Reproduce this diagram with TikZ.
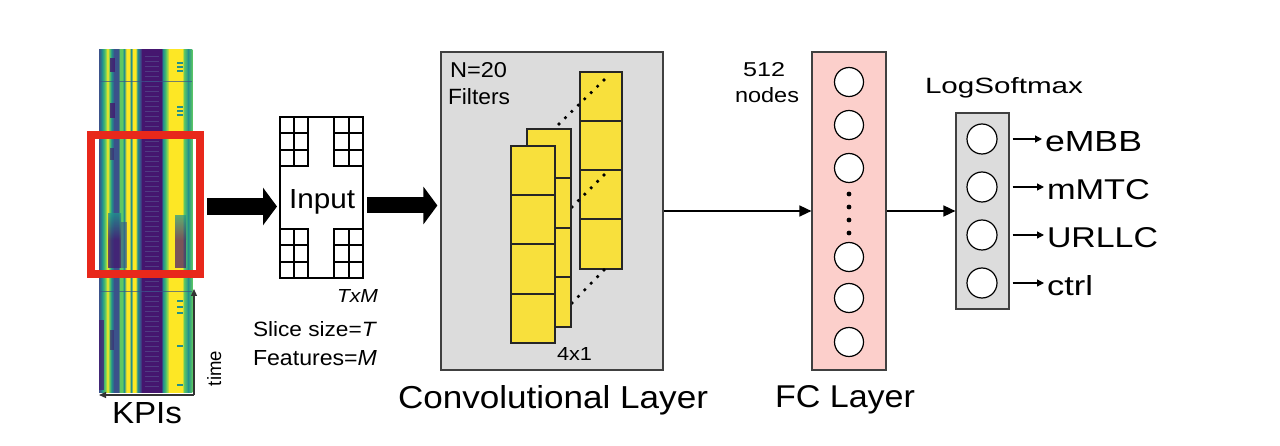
\documentclass[tikz,border=0pt]{standalone}
\usepackage{fontspec}
\setmainfont{Liberation Sans}
\usepackage{graphicx}
\usetikzlibrary{arrows.meta,calc}
\definecolor{Vzero}{HTML}{45166F}
\definecolor{Vone}{HTML}{3B528B}
\definecolor{Vtwo}{HTML}{21908C}
\definecolor{Vthree}{HTML}{5DC863}
\definecolor{Vfour}{HTML}{FDE725}
\definecolor{winred}{HTML}{E8281B}
\definecolor{filteryellow}{HTML}{F8E03C}
\definecolor{fcpink}{HTML}{FCCFCB}
\definecolor{boxgray}{HTML}{DCDCDC}
\newcommand{\fitxt}[3]{\resizebox{#1pt}{#2pt}{#3}}
\begin{document}
\begin{tikzpicture}[x=1pt,y=-1pt,
  lbl/.style={anchor=base west, inner sep=0pt, outer sep=0pt},
  box/.style={draw=black!75, line width=1.2pt, inner sep=0pt},
  neuron/.style={circle, draw=black, fill=white, line width=1.2pt, minimum size=29pt, inner sep=0pt},
  conn/.style={line width=1.5pt, -{Triangle[length=12pt,width=11pt]}},
  outarrow/.style={line width=1.3pt, -{Triangle[length=7pt,width=7pt]}},
  fat/.style={line width=17pt, -{Triangle[length=14pt,width=37pt]}},
  filterbox/.style={draw=black!85, fill=filteryellow, line width=1.2pt},
  axis/.style={line width=1.2pt, draw=black!80, -{Triangle[length=7pt,width=6pt]}},
  cell/.style={draw=black, line width=2pt}]

\fill[white] (0,0) rectangle (1280,446);
\useasboundingbox (0,0) rectangle (1280,446);

% ---------- KPI heat map ----------
\foreach \xa/\ca/\xb/\cb in {99/Vone/102/Vtwo, 102/Vtwo/105/Vthree, 105/Vthree/107.5/Vfour,
  107.5/Vfour/109.5/Vthree, 109.5/Vthree/111.5/Vtwo, 111.5/Vtwo/114/Vone, 114/Vone/118/Vone,
  118/Vone/120/Vthree, 120/Vthree/122/Vthree, 122/Vthree/124/Vtwo, 124/Vtwo/126.5/Vfour,
  126.5/Vfour/129/Vfour, 129/Vfour/131/Vtwo, 131/Vtwo/133/Vfour, 133/Vfour/135.5/Vfour,
  135.5/Vfour/137.5/Vtwo, 137.5/Vtwo/140/Vone, 140/Vone/142/Vzero, 142/Vzero/161/Vzero,
  161/Vzero/163/Vtwo, 163/Vtwo/166/Vthree, 166/Vthree/169/Vfour, 169/Vfour/182/Vfour,
  182/Vfour/184/Vthree, 184/Vthree/188/Vtwo, 188/Vtwo/192/Vthree}
  \shade[left color=\ca, right color=\cb] (\xa,50) rectangle (\xb+0.4,392);
\foreach \yy in {56,61,...,388} \draw[Vone!80!white, opacity=.4, line width=.6pt] (145,\yy) -- (159,\yy);
\fill[Vzero, opacity=.8] (110,58) rectangle (115,72);
\fill[Vzero, opacity=.8] (110,103) rectangle (115,118);
\fill[Vzero, opacity=.6] (110,148) rectangle (114,160);
\shade[top color=Vtwo, bottom color=Vzero, opacity=.75] (108,214) rectangle (121,240);
\fill[Vzero, opacity=.75] (108,240) rectangle (121,268);
\fill[Vone, opacity=.6] (121,222) rectangle (127,268);
\shade[top color=Vtwo, bottom color=Vzero, opacity=.7] (175,216) rectangle (186,240);
\fill[Vzero, opacity=.7] (175,240) rectangle (186,268);
\fill[Vzero, opacity=.7] (99,320) rectangle (104,390);
\fill[Vzero, opacity=.6] (110,330) rectangle (114,350);
\foreach \yy in {62,66,70,106,110,114,300,306,312,345,384} \fill[Vtwo] (177,\yy) rectangle (183,\yy+2);
\draw[Vone, opacity=.7, line width=1pt] (99,82) -- (192,82);
\draw[Vone, opacity=.7, line width=1pt] (99,292) -- (192,292);

\node[draw=winred, line width=8pt, minimum width=109pt, minimum height=139pt, inner sep=0pt] (win) at (145.5,204.5) {};

\coordinate (orig) at (194,395);
\coordinate (tup) at (194,289);
\coordinate (kleft) at (99,395);
\draw[axis] (orig) -- (tup);
\draw[axis] (orig) -- (kleft);
\node[lbl] (kpis) at (112,423) {\fitxt{70}{21}{KPIs}};
\node[lbl, rotate=90] (time) at (221,386) {\fitxt{35}{14}{time}};

% ---------- Input ----------
\foreach \gx/\gw in {280/14,334/14.5} \foreach \gy in {117,229}
  \foreach \i in {0,1} \foreach \j in {0,1,2}
    \draw[cell] (\gx+\i*\gw,\gy+\j*16.33) rectangle ++(\gw,16.33);
\node[draw=black, line width=2pt, minimum width=83pt, minimum height=161pt, inner sep=0pt] (input) at (321.5,197.5) {};
\node[lbl] (inlbl) at (289,209) {\fitxt{66}{19}{Input}};
\node[lbl] (txm) at (337,303) {\fitxt{41}{13}{\textit{TxM}}};
\node[lbl] (slice) at (253,337) {\fitxt{124}{15}{Slice size=\textit{T}}};
\node[lbl] (feat) at (253,366) {\fitxt{124}{15}{Features=\textit{M}}};

% ---------- Convolutional layer ----------
\node[box, fill=boxgray, minimum width=222pt, minimum height=318pt] (conv) at (552,211) {};
\node[lbl] (nfil) at (450,78) {\fitxt{57}{15}{N=20}};
\node[lbl] (filt) at (448,105) {\fitxt{62}{16}{Filters}};
\filldraw[filterbox] (580,72) rectangle (622,269);
\foreach \yy in {121,170,219} \draw[filterbox] (580,\yy) -- (622,\yy);
\coordinate (d1a) at (559,124); \coordinate (d1b) at (604,80);
\coordinate (d2a) at (572,207); \coordinate (d2b) at (604,175);
\coordinate (d3a) at (572,303); \coordinate (d3b) at (604,270);
\foreach \t in {0,0.1429,...,1.01} \fill ($(d1a)!\t!(d1b)$) circle (1.8pt);
\foreach \t in {0,0.2,...,1.01} \fill ($(d2a)!\t!(d2b)$) circle (1.8pt);
\foreach \t in {0,0.2,...,1.01} \fill ($(d3a)!\t!(d3b)$) circle (1.8pt);
\filldraw[filterbox] (527,129) rectangle (571,327);
\foreach \yy in {178,228,277} \draw[filterbox] (527,\yy) -- (571,\yy);
\filldraw[filterbox] (511,146) rectangle (555,343);
\foreach \yy in {195,244,294} \draw[filterbox] (511,\yy) -- (555,\yy);
\node[lbl] (kern) at (557,360) {\fitxt{35}{13}{4x1}};
\node[lbl] (convlbl) at (398,408) {\fitxt{310}{23}{Convolutional Layer}};

% ---------- FC layer ----------
\node[box, fill=fcpink, minimum width=74pt, minimum height=318pt] (fc) at (849,211) {};
\foreach \n/\yy in {1/82,2/125,3/168,4/257,5/298,6/342} \node[neuron] (fc\n) at (849,\yy) {};
\foreach \yy in {194,207,220,233} \fill (849,\yy) circle (2.4pt);
\node[lbl] (fcn) at (743,77) {\fitxt{42}{14}{512}};
\node[lbl] (fcnodes) at (735,103) {\fitxt{64}{15}{nodes}};
\node[lbl] (fclbl) at (775,407) {\fitxt{140}{22}{FC Layer}};

% ---------- LogSoftmax ----------
\node[box, fill=boxgray, minimum width=53pt, minimum height=196pt] (ls) at (982.5,211) {};
\foreach \n/\yy in {1/139,2/187,3/235,4/283} \node[neuron, minimum size=30pt] (ls\n) at (982,\yy) {};
\node[lbl] (lslbl) at (925,94) {\fitxt{158}{16}{LogSoftmax}};
\node[lbl] (o1) at (1045,151.5) {\fitxt{97}{20}{eMBB}};
\node[lbl] (o2) at (1047,199.5) {\fitxt{103}{20}{mMTC}};
\node[lbl] (o3) at (1047,247.5) {\fitxt{111}{20}{URLLC}};
\node[lbl] (o4) at (1047,296) {\fitxt{46}{20}{ctrl}};
\foreach \n in {1,2,3,4}
  \draw[outarrow] ([xshift=3pt]ls.east |- ls\n.center) -- ([xshift=-3pt]o\n.west |- ls\n.center);

% ---------- connectors ----------
\coordinate (a1) at (207,206.5);
\coordinate (a2) at (367,205.5);
\draw[fat] (a1) -- ([xshift=-2pt]input.west |- a1);
\draw[fat, line width=16pt] (a2) -- ([xshift=-3pt]conv.west |- a2);
\draw[conn] (conv.east) -- (fc.west);
\draw[conn] (fc.east) -- (ls.west);
\end{tikzpicture}
\end{document}
